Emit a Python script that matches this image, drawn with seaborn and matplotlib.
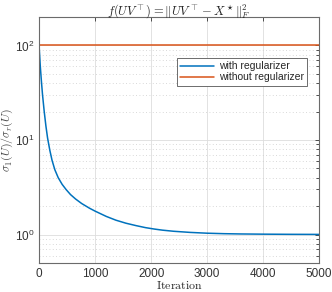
import numpy as np
import pandas as pd
import seaborn as sns
import matplotlib.pyplot as plt
from matplotlib.ticker import LogLocator, NullFormatter

# values
iters = [0, 20, 40, 60, 90, 120, 150, 190, 230, 280, 340, 410, 480, 560, 650, 760, 900,
         1000, 1200, 1372, 1550, 1730, 1900, 2057, 2200, 2400, 2700, 3000, 3300, 3600,
         4000, 4500, 5000]
with_reg = [95, 60, 41.7, 30, 20, 14.1, 10.5, 7.8, 6.1, 4.85, 4.0, 3.4, 3.0, 2.65, 2.38, 2.13, 1.9,
            1.77, 1.556, 1.42, 1.32, 1.245, 1.185, 1.145, 1.115, 1.085, 1.055, 1.035, 1.023, 1.016,
            1.011, 1.007, 1.005]
without_reg = [100] * len(iters)

labels = ["with regularizer", "without regularizer"]
colors = ["#0072BD", "#D95319"]

df = pd.DataFrame({
    "Iteration": iters * 2,
    "ratio": with_reg + without_reg,
    "method": [labels[0]] * len(iters) + [labels[1]] * len(iters),
})

sns.set_style("white")
plt.rcParams["font.family"] = ["Liberation Sans", "DejaVu Sans"]
plt.rcParams["mathtext.fontset"] = "cm"

fig = plt.figure(figsize=(3.32, 2.92), dpi=100)
ax = fig.add_axes([0.118, 0.099, 0.843, 0.843])

sns.lineplot(data=df, x="Iteration", y="ratio", hue="method", hue_order=labels,
             palette=colors, linewidth=1.1, ax=ax)

ax.set_yscale("log")
ax.set_xlim(0, 5000)
ax.set_ylim(0.5, 200)
ax.set_xticks([0, 1000, 2000, 3000, 4000, 5000])
ax.yaxis.set_major_locator(LogLocator(base=10, numticks=10))
ax.yaxis.set_minor_locator(LogLocator(base=10, subs=np.arange(2, 10), numticks=10))
ax.yaxis.set_minor_formatter(NullFormatter())

ax.grid(True, which="major", color="#dddddd", linewidth=0.6)
ax.grid(True, which="minor", axis="y", color="#cccccc", linestyle=(0, (1, 3)), linewidth=0.6)

ax.tick_params(which="both", direction="in", top=True, right=True, labelsize=8.5,
               colors="#333333", length=3, width=0.6)
ax.tick_params(which="minor", length=2)
for s in ax.spines.values():
    s.set_color("#6b6b6b")
    s.set_linewidth(0.8)

ax.set_title(r"$f(UV^\top) = \|UV^\top - X^\star\|_F^2$", fontsize=9, pad=2)
ax.set_xlabel(r"$\mathrm{Iteration}$", fontsize=8.5, labelpad=0)
ax.set_ylabel(r"$\sigma_1(U)/\sigma_r(U)$", fontsize=8.5, color="#444444", labelpad=0)

leg = ax.legend(loc="upper right", bbox_to_anchor=(0.957, 0.832), fontsize=7.5,
                frameon=True, fancybox=False, edgecolor="#555555", framealpha=1,
                handlelength=3.2, borderpad=0.3, labelspacing=0.1, handletextpad=0.5,
                borderaxespad=0)
leg.get_frame().set_linewidth(0.6)

fig.savefig("out.png", dpi=100)
